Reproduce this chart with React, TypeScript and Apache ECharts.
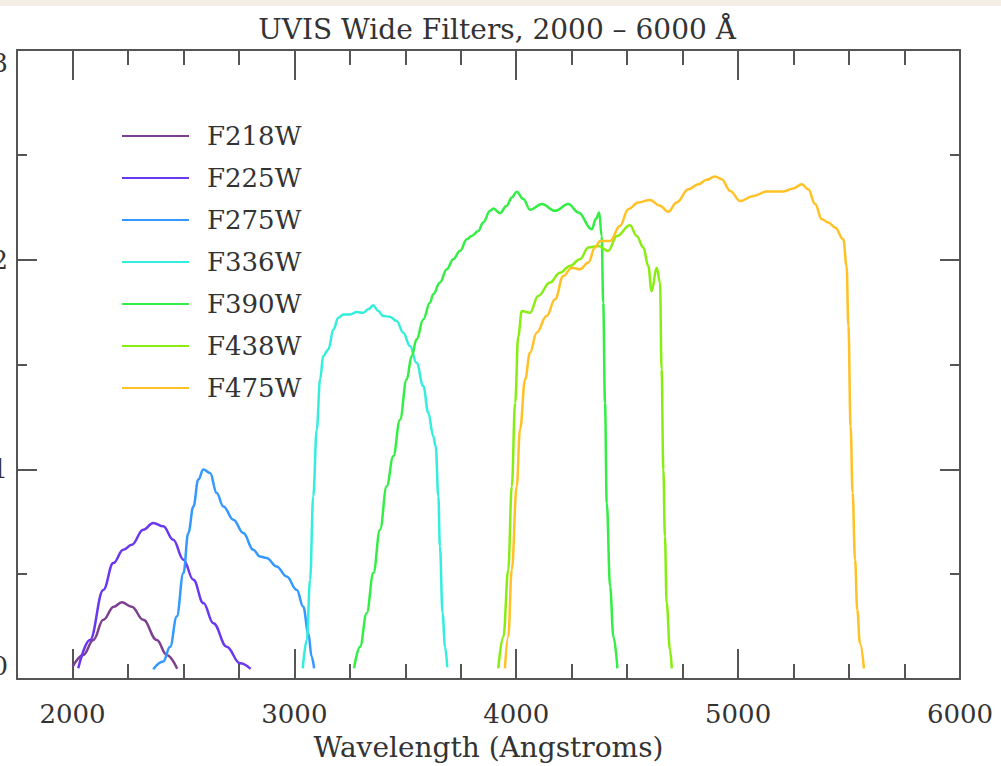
import React, { useEffect, useRef } from "react";
import * as echarts from "echarts";

// Wavelength (Angstroms), throughput
const F218W: [number, number][] = [
  [2001, 0.0059], [2049, 0.0115], [2094, 0.0186], [2139, 0.0282], [2186, 0.0345],
  [2222, 0.0366], [2267, 0.0345], [2319, 0.0282], [2380, 0.0186], [2425, 0.0115],
  [2472, 0.0049],
];
const F225W: [number, number][] = [
  [2026, 0.0051], [2079, 0.0186], [2139, 0.0425], [2184, 0.0553], [2229, 0.0616],
  [2267, 0.064], [2319, 0.0712], [2364, 0.0744], [2409, 0.0728], [2454, 0.0664],
  [2500, 0.0569], [2545, 0.0473], [2590, 0.0362], [2635, 0.0266], [2695, 0.0154],
  [2755, 0.0075], [2803, 0.0048],
];
const F275W: [number, number][] = [
  [2364, 0.0046], [2409, 0.0083], [2440, 0.0154], [2470, 0.0298], [2500, 0.0505],
  [2522, 0.0696], [2545, 0.0823], [2567, 0.0951], [2590, 0.0999], [2620, 0.0983],
  [2650, 0.0887], [2680, 0.0823], [2725, 0.076], [2770, 0.0696], [2815, 0.0616],
  [2845, 0.0584], [2875, 0.0577], [2920, 0.0537], [2965, 0.0489], [3011, 0.0425],
  [3040, 0.0345], [3063, 0.0218], [3078, 0.0107], [3089, 0.0051],
];
const F336W: [number, number][] = [
  [3038, 0.0051], [3056, 0.0186], [3071, 0.0473], [3085, 0.0871], [3101, 0.119],
  [3116, 0.1429], [3130, 0.154], [3153, 0.1572], [3176, 0.1667], [3198, 0.1723],
  [3221, 0.1739], [3251, 0.1739], [3281, 0.175], [3311, 0.1747], [3333, 0.1763],
  [3356, 0.1782], [3378, 0.1755], [3401, 0.1731], [3431, 0.1728], [3461, 0.1707],
  [3491, 0.1652], [3521, 0.1588], [3551, 0.1508], [3581, 0.1397], [3604, 0.1269],
  [3626, 0.1158], [3637, 0.111], [3649, 0.0871], [3656, 0.0632], [3668, 0.0314],
  [3679, 0.0154], [3689, 0.0056],
];
const F390W: [number, number][] = [
  [3269, 0.0051], [3296, 0.0154], [3326, 0.0314], [3356, 0.0505], [3386, 0.0712],
  [3416, 0.0919], [3446, 0.1062], [3476, 0.1237], [3506, 0.1429], [3529, 0.154],
  [3551, 0.162], [3581, 0.1715], [3611, 0.1795], [3626, 0.1835], [3656, 0.1891],
  [3687, 0.1954], [3716, 0.2002], [3747, 0.2042], [3777, 0.2097], [3799, 0.2113],
  [3829, 0.2137], [3851, 0.2177], [3882, 0.2233], [3897, 0.2244], [3927, 0.2222],
  [3957, 0.2257], [3980, 0.2297], [4002, 0.2324], [4032, 0.2289], [4062, 0.2238],
  [4115, 0.2265], [4175, 0.2233], [4235, 0.2265], [4280, 0.2225], [4340, 0.2145],
  [4360, 0.2196], [4374, 0.2225], [4385, 0.2113], [4392, 0.1795], [4400, 0.1317],
  [4408, 0.0839], [4423, 0.0441], [4438, 0.0202], [4456, 0.0051],
];
const F438W: [number, number][] = [
  [3919, 0.0051], [3942, 0.0202], [3964, 0.0521], [3980, 0.0919], [3995, 0.1317],
  [4009, 0.1635], [4025, 0.1755], [4062, 0.1747], [4099, 0.1827], [4152, 0.1891],
  [4197, 0.1938], [4242, 0.197], [4287, 0.2002], [4325, 0.2058], [4370, 0.2065],
  [4415, 0.2042], [4453, 0.2113], [4513, 0.2164], [4543, 0.2113], [4573, 0.2058],
  [4595, 0.197], [4610, 0.185], [4633, 0.1962], [4648, 0.1891], [4655, 0.1476],
  [4663, 0.0999], [4670, 0.068], [4678, 0.0362], [4693, 0.0139], [4701, 0.0051],
];
const F475W: [number, number][] = [
  [3949, 0.0051], [3964, 0.0202], [3980, 0.0521], [4002, 0.0919], [4017, 0.119],
  [4040, 0.1429], [4062, 0.1556], [4092, 0.1652], [4137, 0.1731], [4175, 0.1811],
  [4212, 0.1922], [4250, 0.1962], [4287, 0.1954], [4325, 0.1986], [4355, 0.2058],
  [4378, 0.2089], [4423, 0.2089], [4467, 0.2161], [4505, 0.2241], [4550, 0.2273],
  [4603, 0.2285], [4648, 0.2257], [4685, 0.2228], [4723, 0.2273], [4776, 0.2336],
  [4821, 0.236], [4858, 0.2381], [4896, 0.2397], [4926, 0.2384], [4964, 0.2328],
  [5009, 0.228], [5069, 0.2304], [5129, 0.2325], [5204, 0.2325], [5249, 0.234],
  [5287, 0.236], [5316, 0.2336], [5347, 0.2265], [5377, 0.2193], [5407, 0.2177],
  [5437, 0.2153], [5474, 0.2097], [5489, 0.197], [5497, 0.1683], [5507, 0.1205],
  [5516, 0.0887], [5527, 0.0569], [5537, 0.033], [5549, 0.0171], [5567, 0.0051],
];

const FILTER_NAMES = ["F218W", "F225W", "F275W", "F336W", "F390W", "F438W", "F475W"];
const FILTER_DATA = [F218W, F225W, F275W, F336W, F390W, F438W, F475W];
const FILTER_COLORS = ["#7d3f8f", "#6a38ee", "#3399ff", "#33eedd", "#33ee44", "#88ee11", "#ffc125"];

const X_LABELS = [2000, 3000, 4000, 5000, 6000];
const X_MAJOR = [2000, 3000, 4000, 5000];

const FONT = "DejaVu Serif";
const AXIS_COLOR = "#555555";
const TEXT_COLOR = "#333333";

export default function App() {
  const ref = useRef<HTMLDivElement>(null);

  useEffect(() => {
    if (!ref.current) return;
    const chart = echarts.init(ref.current, undefined, { renderer: "svg" });
    const line = { show: true, lineStyle: { color: AXIS_COLOR, width: 2 } };
    const tickStyle = { color: AXIS_COLOR, width: 2 };
    const xBase = {
      type: "value" as const,
      min: 1750,
      max: 6000,
      splitLine: { show: false },
    };
    const yBase = {
      type: "value" as const,
      min: 0,
      max: 0.3,
      interval: 0.1,
      splitLine: { show: false },
    };
    chart.setOption({
      animation: false,
      backgroundColor: "#ffffff",
      title: {
        text: "UVIS Wide Filters, 2000 – 6000 Å",
        left: 492,
        textAlign: "center",
        top: 10,
        textStyle: { fontFamily: FONT, fontSize: 28, fontWeight: "normal", color: TEXT_COLOR },
      },
      graphic: [
        { type: "rect", left: 0, top: 0, shape: { width: 1001, height: 6 }, style: { fill: "#f3efe7" }, silent: true },
      ],
      legend: {
        orient: "vertical",
        left: 117,
        top: 118,
        icon: "rect",
        itemWidth: 67,
        itemHeight: 2,
        itemGap: 16,
        data: FILTER_NAMES,
        textStyle: {
          fontFamily: FONT,
          fontSize: 26,
          lineHeight: 26,
          color: TEXT_COLOR,
          padding: [0, 0, 0, 13],
        },
      },
      grid: { left: 17, right: 41, top: 50, bottom: 87, containLabel: false, outerBoundsMode: "none" },
      xAxis: [
        {
          ...xBase,
          position: "bottom",
          interval: 250,
          axisLine: line,
          axisTick: { show: true, inside: true, length: 15, lineStyle: tickStyle },
          axisLabel: {
            show: true,
            margin: 22,
            fontFamily: FONT,
            fontSize: 26,
            color: TEXT_COLOR,
            formatter: (v: number) => (X_LABELS.includes(v) ? String(v) : ""),
          },
          name: "Wavelength (Angstroms)",
          nameLocation: "middle",
          nameGap: 54,
          nameTextStyle: { fontFamily: FONT, fontSize: 28, color: TEXT_COLOR },
        },
        {
          ...xBase,
          position: "bottom",
          offset: 0,
          axisLine: { show: false },
          axisTick: { show: true, inside: true, length: 30, lineStyle: tickStyle, customValues: X_MAJOR },
          axisLabel: { show: false },
        },
        {
          ...xBase,
          position: "top",
          interval: 250,
          axisLine: line,
          axisTick: { show: true, inside: true, length: 15, lineStyle: tickStyle },
          axisLabel: { show: false },
        },
        {
          ...xBase,
          position: "top",
          offset: 0,
          axisLine: { show: false },
          axisTick: { show: true, inside: true, length: 30, lineStyle: tickStyle, customValues: X_MAJOR },
          axisLabel: { show: false },
        },
      ],
      yAxis: [
        {
          ...yBase,
          position: "left",
          axisLine: line,
          axisTick: { show: true, inside: true, length: 20, lineStyle: tickStyle },
          minorTick: { show: true, splitNumber: 2, length: 10, lineStyle: tickStyle },
          axisLabel: {
            show: true,
            margin: 9,
            fontFamily: FONT,
            fontSize: 26,
            color: TEXT_COLOR,
            formatter: (v: number) => v.toFixed(1),
            verticalAlignMaxLabel: "top",
            verticalAlignMinLabel: "bottom",
          },
        },
        {
          ...yBase,
          position: "right",
          axisLine: line,
          axisTick: { show: true, inside: true, length: 20, lineStyle: tickStyle },
          minorTick: { show: true, splitNumber: 2, length: 10, lineStyle: tickStyle },
          axisLabel: { show: false },
        },
      ],
      series: FILTER_NAMES.map((name, i) => ({
        name,
        type: "line",
        xAxisIndex: 0,
        yAxisIndex: 0,
        data: FILTER_DATA[i],
        symbol: "none",
        smooth: 0.4,
        smoothMonotone: "x",
        color: FILTER_COLORS[i],
        lineStyle: { width: 2.5, color: FILTER_COLORS[i] },
      })),
    });
    return () => chart.dispose();
  }, []);

  return (
    <div
      ref={ref}
      style={{ position: "absolute", left: 0, top: 0, width: 1001, height: 766, background: "#ffffff" }}
    />
  );
}
